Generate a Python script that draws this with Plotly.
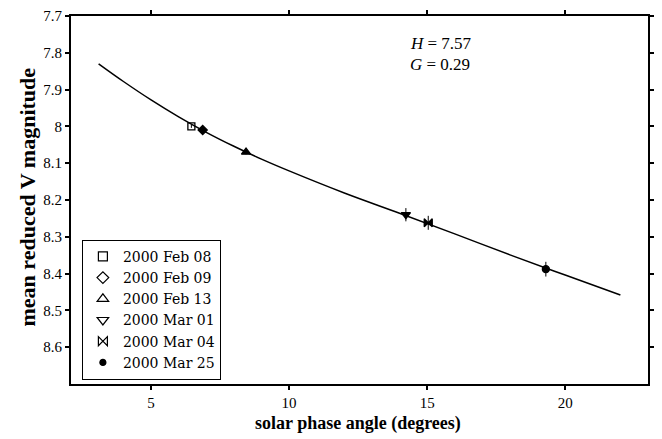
import plotly.graph_objects as go

dates = ["2000 Feb 08", "2000 Feb 09", "2000 Feb 13", "2000 Mar 01", "2000 Mar 04", "2000 Mar 25"]
phase = [6.46, 6.87, 8.44, 14.23, 15.04, 19.30]
mag = [8.000, 8.010, 8.070, 8.240, 8.262, 8.388]
mag_err = [0.004, 0.005, 0.006, 0.018, 0.019, 0.020]

# fitted H-G curve
fit_phase = [3.1, 4, 5, 6, 7, 8, 9, 10, 12, 14, 16, 18, 20, 22]
fit_mag = [7.830, 7.878, 7.928, 7.974, 8.016, 8.054, 8.089, 8.121, 8.181, 8.236, 8.292, 8.349, 8.404, 8.458]

x_ticks = [5, 10, 15, 20]
y_ticks = [7.7, 7.8, 7.9, 8.0, 8.1, 8.2, 8.3, 8.4, 8.5, 8.6]
y_ticktext = ["7.7", "7.8", "7.9", "8", "8.1", "8.2", "8.3", "8.4", "8.5", "8.6"]

plot_symbols = ["square-open", "diamond", "triangle-up", "triangle-down", "bowtie", "circle"]
legend_symbols = ["square-open", "diamond-open", "triangle-up-open", "triangle-down-open", "bowtie-open", "circle"]
plot_sizes = [7, 7, 8, 8, 8, 7]
legend_sizes = [9, 9, 10, 10, 9, 6]

SERIF = "Liberation Serif"
LEG_FONT = "DejaVu Serif"

fig = go.Figure()

fig.add_trace(go.Scatter(
    x=fit_phase, y=fit_mag, mode="lines", line=dict(color="black", width=1.5, shape="spline", smoothing=1.0),
    showlegend=False, hoverinfo="skip"))

for i, d in enumerate(dates):
    fig.add_trace(go.Scatter(
        x=[phase[i]], y=[mag[i]], mode="markers",
        marker=dict(symbol=plot_symbols[i], size=plot_sizes[i], color="black",
                    line=dict(color="black", width=1.3)),
        error_y=dict(type="data", array=[mag_err[i]], color="black", thickness=1, width=0),
        showlegend=False))
    fig.add_trace(go.Scatter(
        x=[None], y=[None], mode="markers", name=d,
        marker=dict(symbol=legend_symbols[i], size=legend_sizes[i], color="black",
                    line=dict(color="black", width=1.2)),
        showlegend=True))

W, H = 662, 439
L, R, T, B = 71, 8, 14, 55
pw, ph = W - L - R, H - T - B

def px(xp):
    return (xp - L) / pw

def py(yp):
    return (H - B - yp) / ph

fig.add_annotation(x=px(412), y=py(42), xref="paper", yref="paper", xanchor="left", yanchor="middle",
                   text="<i>H</i> = 7.57", showarrow=False, font=dict(family=SERIF, size=17, color="black"))
fig.add_annotation(x=px(412), y=py(63), xref="paper", yref="paper", xanchor="left", yanchor="middle",
                   text="<i>G</i> = 0.29", showarrow=False, font=dict(family=SERIF, size=17, color="black"))
fig.add_annotation(x=px(27), y=py(196), xref="paper", yref="paper", xanchor="center", yanchor="middle",
                   text="<b>mean reduced V magnitude</b>", textangle=-90, showarrow=False,
                   font=dict(family=SERIF, size=22, color="black"))
fig.add_annotation(x=px(361), y=py(424), xref="paper", yref="paper", xanchor="center", yanchor="middle",
                   text="<b>solar phase angle (degrees)</b>", showarrow=False,
                   font=dict(family=SERIF, size=18, color="black"))

fig.update_layout(
    width=W, height=H,
    margin=dict(l=L, r=R, t=T, b=B),
    paper_bgcolor="white", plot_bgcolor="white",
    font=dict(family=SERIF, color="black"),
    legend=dict(x=px(82), y=py(239), xanchor="left", yanchor="top",
                bordercolor="black", borderwidth=1, bgcolor="white",
                font=dict(family=LEG_FONT, size=14, color="black"),
                tracegroupgap=0, itemwidth=30),
)
fig.update_xaxes(range=[2.1, 23.0], tickvals=x_ticks, ticks="outside", ticklen=4, tickwidth=1.5,
                 tickcolor="black", showline=True, linecolor="black", linewidth=2, mirror="ticks",
                 showgrid=False, zeroline=False,
                 tickfont=dict(family=SERIF, size=15, color="black"))
fig.update_yaxes(range=[8.7, 7.7], tickvals=y_ticks, ticktext=y_ticktext, ticks="outside", ticklen=4,
                 tickwidth=1.5, tickcolor="black", showline=True, linecolor="black", linewidth=2,
                 mirror="ticks", showgrid=False, zeroline=False,
                 tickfont=dict(family=SERIF, size=15, color="black"))

fig.write_html("out.html")
